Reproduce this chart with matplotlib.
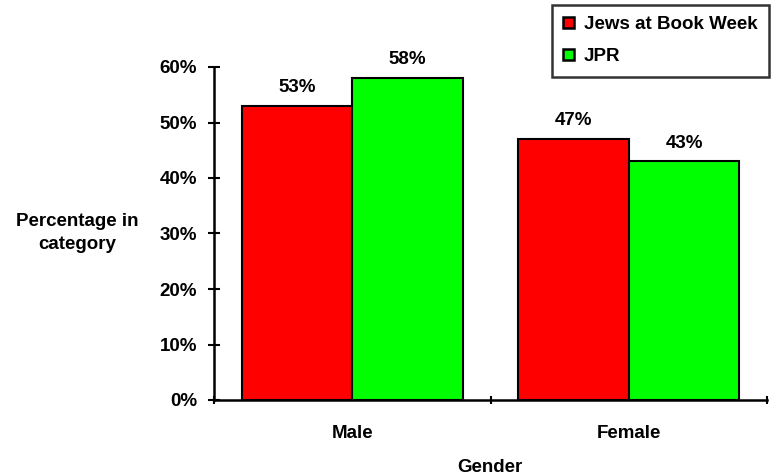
import matplotlib
matplotlib.use("Agg")
import matplotlib.pyplot as plt
import numpy as np
from matplotlib.ticker import FuncFormatter, FixedLocator

categories = ["Male", "Female"]
series_names = ["Jews at Book Week", "JPR"]
book_week = [53, 47]
jpr = [58, 43]
colors = ["#ff0000", "#00ff00"]

plt.rcParams["font.family"] = ["Liberation Sans", "DejaVu Sans"]
plt.rcParams["font.weight"] = "bold"
FS = 13.5

fig = plt.figure(figsize=(7.8, 4.76), dpi=100)
ax = fig.add_axes([214 / 780, 76 / 476, (767 - 214) / 780, (400 - 67) / 476])

x = np.arange(len(categories))
w = 0.4
for i, (vals, name, col) in enumerate(zip([book_week, jpr], series_names, colors)):
    pos = x - w / 2 + i * w
    bars = ax.bar(pos, [v / 100 for v in vals], width=w, color=col,
                  edgecolor="black", linewidth=1.5, label=name, zorder=2)
    for b, v in zip(bars, vals):
        ax.annotate(f"{v}%", (b.get_x() + b.get_width() / 2, b.get_height()),
                    xytext=(0, 7), textcoords="offset points",
                    ha="center", va="bottom", fontsize=FS, fontweight="bold")

ax.set_xlim(-0.5, 1.5)
ax.set_ylim(0, 0.6)
ax.set_yticks(np.arange(0, 0.61, 0.1))
ax.yaxis.set_major_formatter(FuncFormatter(lambda v, p: f"{v * 100:.0f}%"))
ax.set_xticks(x)
ax.set_xticklabels(categories, fontsize=FS, fontweight="bold")
ax.xaxis.set_minor_locator(FixedLocator([-0.5, 0.5, 1.5]))
ax.tick_params(axis="x", which="major", length=0, pad=18)
ax.tick_params(axis="x", which="minor", length=6, width=1.5, direction="inout")
ax.tick_params(axis="y", length=8, width=1.5, direction="inout", labelsize=FS, pad=8)
for lab in ax.get_yticklabels():
    lab.set_fontweight("bold")

for s in ["top", "right"]:
    ax.spines[s].set_visible(False)
for s in ["left", "bottom"]:
    ax.spines[s].set_linewidth(1.8)

fig.text(490 / 780, 1 - 467 / 476, "Gender", ha="center", va="center",
         fontsize=FS, fontweight="bold")
fig.text(77 / 780, 1 - 233 / 476, "Percentage in\ncategory", ha="center", va="center",
         fontsize=FS, fontweight="bold", linespacing=1.45)

leg = fig.legend(loc="upper left", bbox_to_anchor=(552 / 780, 1 - 5 / 476),
                 fontsize=FS, frameon=True, fancybox=False, borderaxespad=0,
                 handlelength=0.55, handleheight=0.55, handletextpad=0.55,
                 borderpad=0.6, labelspacing=0.8)
leg.get_frame().set_edgecolor("black")
leg.get_frame().set_linewidth(1.8)
for t in leg.get_texts():
    t.set_fontweight("bold")
for h in leg.legend_handles:
    h.set_linewidth(1.8)

fig.savefig("out.png", dpi=100)
